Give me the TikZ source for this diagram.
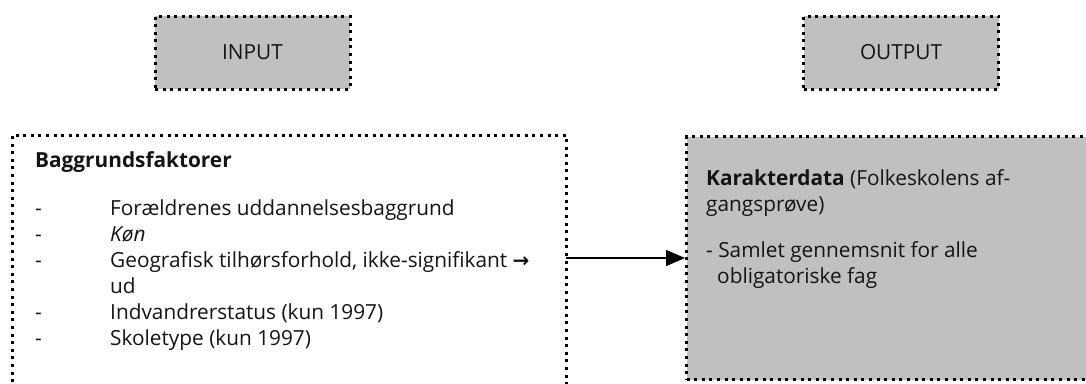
\documentclass[tikz,border=0pt]{standalone}
\usepackage{fontspec}
\setmainfont{Open Sans}
\newfontfamily\symfont{DejaVu Sans}
\usetikzlibrary{arrows.meta}
\definecolor{boxgray}{HTML}{C0C0C0}
\definecolor{inkcol}{HTML}{141414}
\begin{document}
\begin{tikzpicture}[x=1pt,y=-1pt,
  dotbox/.style={draw=black, line width=3pt, dash pattern=on 3pt off 4.6pt},
  headbox/.style={dotbox, fill=boxgray, minimum width=195pt, minimum height=73pt, inner sep=0pt,
    font=\fontsize{20.8}{24}\selectfont, text=inkcol},
  line/.style={anchor=base west, inner sep=0pt, font=\fontsize{20.8}{24}\selectfont, text=inkcol},
  conn/.style={line width=1.3pt, -{Triangle[length=19pt,width=16pt]}}]
\useasboundingbox (0,0) rectangle (1086,383);
\clip (0,0) rectangle (1086,383);
% header boxes
\node[headbox] (inp) at (252.5,52.5) {INPUT};
\node[headbox] (outp) at (901,52.5) {OUTPUT};
% left box (open at the bottom)
\node[anchor=north west, minimum width=554pt, minimum height=300pt, inner sep=0pt] (bg) at (12,135) {};
\draw[dotbox] (bg.south west) -- (bg.north west) -- (bg.north east) -- (bg.south east);
% right box
\node[dotbox, fill=boxgray, anchor=north west, minimum width=430pt, minimum height=243pt, inner sep=0pt] (kd) at (685,135) {};
% left texts
\node[line, font=\fontsize{20.8}{24}\selectfont\bfseries] (t0) at (35,167) {Baggrundsfaktorer};
\node[line] (d1) at (35,215) {-};
\node[line] (t1) at (110,215) {Forældrenes uddannelsesbaggrund};
\node[line] (d2) at (35,241) {-};
\node[line] (t2) at (110,241) {\itshape Køn};
\node[line] (d3) at (35,267) {-};
\node[line] (t3) at (110,267) {Geografisk tilhørsforhold, ikke-signifikant {\symfont\bfseries\fontsize{20}{24}\selectfont →}};
\node[line] (t3b) at (110,293) {ud};
\node[line] (d4) at (35,319) {-};
\node[line] (t4) at (110,319) {Indvandrerstatus (kun 1997)};
\node[line] (d5) at (35,345) {-};
\node[line] (t5) at (110,345) {Skoletype (kun 1997)};
% right texts
\node[line] (r1) at (706,185) {\textbf{Karakterdata} (Folkeskolens af-};
\node[line] (r2) at (706,211) {gangsprøve)};
\node[line] (r3) at (706,257) {- Samlet gennemsnit for alle};
\node[line] (r4) at (717,283) {obligatoriske fag};
% connector
\coordinate (ay) at (0,258);
\draw[conn] (bg.north east |- ay) -- (kd.north west |- ay);
\end{tikzpicture}
\end{document}
